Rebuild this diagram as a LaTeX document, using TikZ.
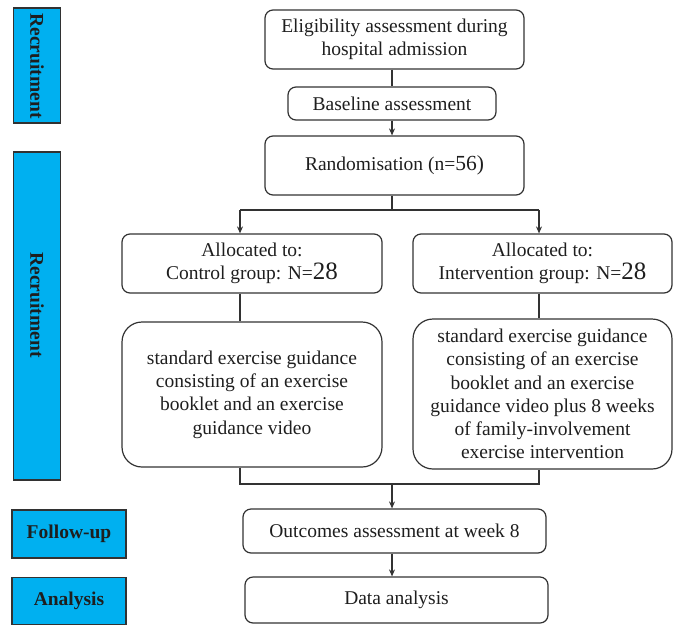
\documentclass[tikz,border=0pt]{standalone}
\usepackage{fontspec}
\setmainfont{Liberation Serif}
\usetikzlibrary{arrows.meta}
\definecolor{barblue}{RGB}{0,176,240}
\definecolor{edge}{RGB}{50,50,50}
\definecolor{txt}{RGB}{30,30,30}
\newcommand{\bignum}[1]{{\fontsize{25}{23.3}\selectfont #1}}
\newcommand{\midnum}[1]{{\fontsize{21.5}{23.3}\selectfont #1}}
\begin{document}
\begin{tikzpicture}[x=1pt,y=-1pt,
  box/.style={draw=edge, line width=1.2pt, rounded corners=8pt, align=center,
    inner sep=0pt, text=txt, font=\fontsize{19.5}{23.3}\selectfont},
  bigbox/.style={box, rounded corners=20pt},
  bar/.style={draw=edge, line width=1.2pt, fill=barblue, inner sep=0pt},
  bartext/.style={inner sep=0pt, text=txt, font=\bfseries\fontsize{19.5}{23}\selectfont},
  conn/.style={draw=edge, line width=1.1pt},
  arr/.style={conn, -{Stealth[length=7pt,width=6pt]}}
]
\useasboundingbox (0,0) rectangle (679,624);

% side bars
\node[bar, minimum width=47, minimum height=115] (rec1) at (37,65.5) {};
\node[bartext, rotate=-90] (rec1t) at (37,66) {Recruitment};
\node[bar, minimum width=47, minimum height=328] (rec2) at (37,316) {};
\node[bartext, rotate=-90] (rec2t) at (37,305) {Recruitment};
\node[bar, bartext, minimum width=114, minimum height=48] (fu) at (69,534) {Follow-up};
\node[bar, bartext, minimum width=114, minimum height=47] (an) at (69,601) {Analysis};

% main boxes
\node[box, minimum width=259, minimum height=59] (elig) at (394.5,39.5)
  {Eligibility assessment during\\hospital admission};
\node[box, minimum width=208, minimum height=33] (base) at (392,103.5)
  {Baseline assessment};
\node[box, minimum width=259, minimum height=59] (rand) at (394.5,165.5)
  {Randomisation (n=\midnum{56)}};
\node[box, minimum width=260, minimum height=59] (ca) at (252,263.5)
  {Allocated to:\\Control group: N=\bignum{28}};
\node[box, minimum width=259, minimum height=59] (ia) at (542.5,263.5)
  {Allocated to:\\Intervention group: N=\bignum{28}};
\node[bigbox, minimum width=260, minimum height=145] (cd) at (252,394.5)
  {standard exercise guidance\\consisting of an exercise\\booklet and an exercise\\guidance video};
\node[bigbox, minimum width=259, minimum height=150] (id) at (542.5,394)
  {standard exercise guidance\\consisting of an exercise\\booklet and an exercise\\guidance video plus 8 weeks\\of family-involvement\\exercise intervention};
\node[box, minimum width=303, minimum height=44] (out) at (394.5,531)
  {Outcomes assessment at week 8};
\node[box, minimum width=303, minimum height=46] (da) at (396.5,600)
  {Data analysis};

% connector coordinates
\coordinate (cx) at (392,0);
\coordinate (split) at (392,210);
\coordinate (lx) at (240,210);
\coordinate (rx) at (539,210);
\coordinate (lb) at (240,484);
\coordinate (rb) at (539,484);
\coordinate (mb) at (392,484);

% connectors
\draw[conn] (elig.south -| cx) -- (base.north -| cx);
\draw[arr] (base.south -| cx) -- (rand.north -| cx);
\draw[conn] (rand.south -| cx) -- (split);
\draw[conn] (lx) -- (rx);
\draw[arr] (lx) -- (ca.north -| lx);
\draw[arr] (rx) -- (ia.north -| rx);
\draw[conn] (ca.south -| lx) -- (cd.north -| lx);
\draw[conn] (ia.south -| rx) -- (id.north -| rx);
\draw[conn] (cd.south -| lb) -- (lb) -- (rb) -- (id.south -| rb);
\draw[arr] (mb) -- (out.north -| mb);
\draw[arr] (out.south -| mb) -- (da.north -| mb);
\end{tikzpicture}
\end{document}
